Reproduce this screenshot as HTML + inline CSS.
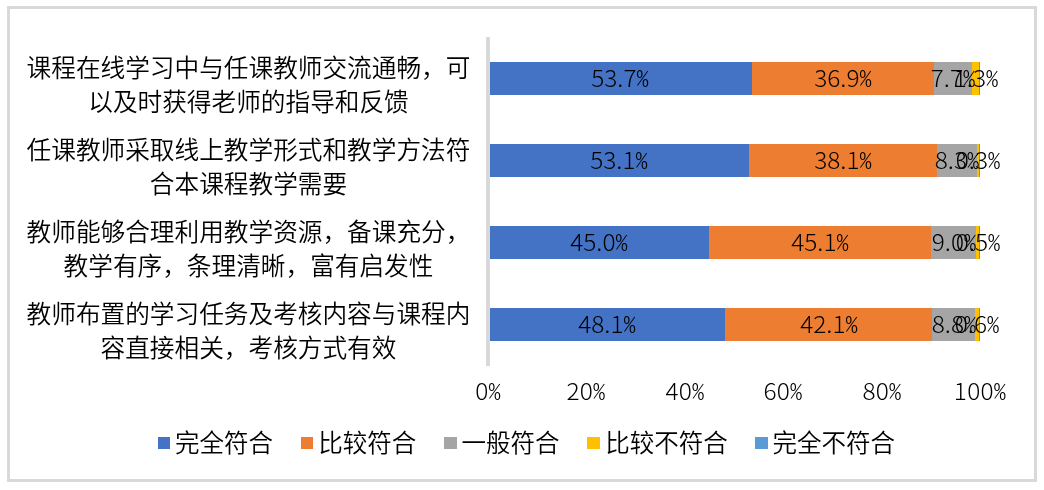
<!DOCTYPE html>
<html lang="zh-CN"><head><meta charset="utf-8"><title>chart</title>
<style>
html,body{margin:0;padding:0;background:#fff}
body{width:1044px;height:490px;position:relative;overflow:hidden;color:#000;
 font-family:"Noto Sans CJK SC","Liberation Sans",sans-serif;font-weight:350;font-size:24.67px}
.frame{position:absolute;left:7px;top:6px;width:1024px;height:470px;border:3px solid #D9D9D9;background:#fff}
.axis{position:absolute;left:486px;top:37px;width:4px;height:329px;background:#D9D9D9}
.seg{position:absolute;height:33px}
.dl{position:absolute;height:33px;line-height:33px;width:120px;margin-left:-60px;margin-top:-1.5px;text-align:center;white-space:nowrap;font-size:23.5px;font-weight:300;transform:scaleX(1.04)}
.tk{position:absolute;top:373px;height:34px;line-height:34px;width:120px;margin-left:-60px;text-align:center;white-space:nowrap;font-size:23.5px;font-weight:300;letter-spacing:.2px;transform:scaleX(1.04)}
i{font-style:normal;font-feature-settings:"hwid"}
.cat{position:absolute;left:8.5px;width:480px;text-align:center;white-space:nowrap;line-height:34px}
.lg{position:absolute;top:425px;height:34px;line-height:34px;white-space:nowrap;font-size:24.5px}
.mk{position:absolute;top:437px;width:12px;height:12px}
</style></head><body>
<div class="frame"></div>
<div class="seg" style="left:488.0px;top:62px;width:264.0px;background:#4472C4"></div>
<div class="seg" style="left:752.0px;top:62px;width:182.0px;background:#ED7D31"></div>
<div class="seg" style="left:934.0px;top:62px;width:38.0px;background:#A5A5A5"></div>
<div class="seg" style="left:972.0px;top:62px;width:7.0px;background:#FFC000"></div>
<div class="seg" style="left:979.0px;top:62px;width:1.0px;background:#5B9BD5"></div>
<div class="dl" style="left:620.0px;top:62px">53.7<i>%</i></div>
<div class="dl" style="left:843.0px;top:62px">36.9<i>%</i></div>
<div class="dl" style="left:953.0px;top:62px">7.7<i>%</i></div>
<div class="dl" style="left:975.5px;top:62px">1.3<i>%</i></div>
<div class="seg" style="left:488.0px;top:144px;width:261.0px;background:#4472C4"></div>
<div class="seg" style="left:749.0px;top:144px;width:188.0px;background:#ED7D31"></div>
<div class="seg" style="left:937.0px;top:144px;width:40.0px;background:#A5A5A5"></div>
<div class="seg" style="left:977.0px;top:144px;width:2.0px;background:#FFC000"></div>
<div class="seg" style="left:979.0px;top:144px;width:1.0px;background:#5B9BD5"></div>
<div class="dl" style="left:618.5px;top:144px">53.1<i>%</i></div>
<div class="dl" style="left:843.0px;top:144px">38.1<i>%</i></div>
<div class="dl" style="left:957.0px;top:144px">8.3<i>%</i></div>
<div class="dl" style="left:978.0px;top:144px">0.3<i>%</i></div>
<div class="seg" style="left:488.0px;top:226px;width:221.0px;background:#4472C4"></div>
<div class="seg" style="left:709.0px;top:226px;width:222.0px;background:#ED7D31"></div>
<div class="seg" style="left:931.0px;top:226px;width:45.0px;background:#A5A5A5"></div>
<div class="seg" style="left:976.0px;top:226px;width:3.0px;background:#FFC000"></div>
<div class="seg" style="left:979.0px;top:226px;width:1.0px;background:#5B9BD5"></div>
<div class="dl" style="left:598.5px;top:226px">45.0<i>%</i></div>
<div class="dl" style="left:820.0px;top:226px">45.1<i>%</i></div>
<div class="dl" style="left:953.5px;top:226px">9.0<i>%</i></div>
<div class="dl" style="left:977.5px;top:226px">0.5<i>%</i></div>
<div class="seg" style="left:488.0px;top:308px;width:237.0px;background:#4472C4"></div>
<div class="seg" style="left:725.0px;top:308px;width:207.0px;background:#ED7D31"></div>
<div class="seg" style="left:932.0px;top:308px;width:43.0px;background:#A5A5A5"></div>
<div class="seg" style="left:975.0px;top:308px;width:4.0px;background:#FFC000"></div>
<div class="seg" style="left:979.0px;top:308px;width:1.0px;background:#5B9BD5"></div>
<div class="dl" style="left:606.5px;top:308px">48.1<i>%</i></div>
<div class="dl" style="left:828.5px;top:308px">42.1<i>%</i></div>
<div class="dl" style="left:953.5px;top:308px">8.8<i>%</i></div>
<div class="dl" style="left:977.0px;top:308px">0.6<i>%</i></div>
<div class="axis"></div>
<div class="tk" style="left:488.0px">0<i>%</i></div>
<div class="tk" style="left:586.4px">20<i>%</i></div>
<div class="tk" style="left:684.8px">40<i>%</i></div>
<div class="tk" style="left:783.2px">60<i>%</i></div>
<div class="tk" style="left:881.6px">80<i>%</i></div>
<div class="tk" style="left:980.0px">100<i>%</i></div>
<div class="cat" style="top:49.1px">课程在线学习中与任课教师交流通畅，可<br>以及时获得老师的指导和反馈</div>
<div class="cat" style="top:131.1px">任课教师采取线上教学形式和教学方法符<br>合本课程教学需要</div>
<div class="cat" style="top:213.1px">教师能够合理利用教学资源，备课充分，<br>教学有序，条理清晰，富有启发性</div>
<div class="cat" style="top:295.1px">教师布置的学习任务及考核内容与课程内<br>容直接相关，考核方式有效</div>
<div class="mk" style="left:158px;width:12px;background:#4472C4"></div><div class="lg" style="left:175.1px">完全符合</div>
<div class="mk" style="left:301px;width:12px;background:#ED7D31"></div><div class="lg" style="left:318.2px">比较符合</div>
<div class="mk" style="left:444px;width:13px;background:#A5A5A5"></div><div class="lg" style="left:461.4px">一般符合</div>
<div class="mk" style="left:587px;width:13px;background:#FFC000"></div><div class="lg" style="left:605.3px">比较不符合</div>
<div class="mk" style="left:755px;width:13px;background:#5B9BD5"></div><div class="lg" style="left:772.6px">完全不符合</div>
</body></html>
